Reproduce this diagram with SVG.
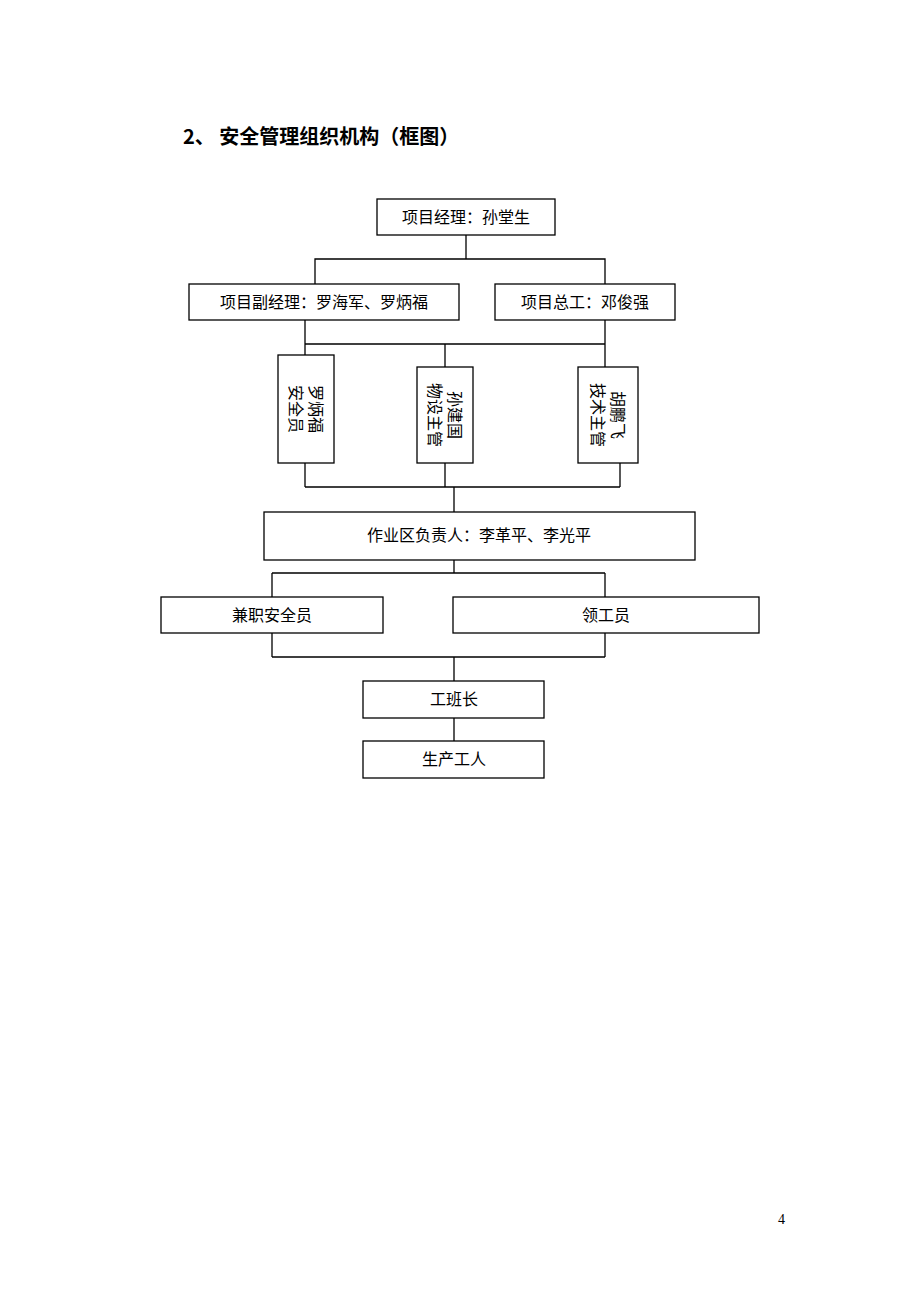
<svg xmlns="http://www.w3.org/2000/svg" width="920" height="1302" viewBox="0 0 920 1302">
<style>
rect{fill:#fff;stroke:#000;stroke-width:1.3}
.c{fill:none;stroke:#000;stroke-width:1.3}
text{font-family:"Noto Sans CJK SC","Liberation Serif",serif;font-size:16px;fill:#000}
.m{text-anchor:middle}
</style>
<rect x="0" y="0" width="920" height="1302" style="stroke:none"/>
<text x="183" y="144" style="font-size:20px;font-weight:bold">2、  安全管理组织机构（框图）</text>
<g id="connectors">
<path class="c" d="M466 235V259M315 284V259H605V284M305 320V344M605 320V344M305 344H605M305 344V355M445 344V367M605 344V367M305 463V487M445 463V487M620 463V487M305 487H620M454 487V512M454 560V573M272 573H605M272 573V597M605 573V597M272 633V657M605 633V657M272 657H605M454 657V681M454 718V741"/>
</g>
<g id="n1"><rect x="377" y="199" width="178" height="36"/><text class="m" x="466" y="223">项目经理：孙堂生</text></g>
<g id="n2"><rect x="189" y="284" width="270" height="36"/><text class="m" x="324" y="308">项目副经理：罗海军、罗炳福</text></g>
<g id="n3"><rect x="495" y="284" width="180" height="36"/><text class="m" x="585" y="308">项目总工：邓俊强</text></g>
<g id="n4"><rect x="278" y="355" width="56" height="108"/><text transform="translate(306,409) rotate(90)"><tspan class="m" x="0" y="-4">罗炳福</tspan><tspan class="m" x="0" y="16">安全员</tspan></text></g>
<g id="n5"><rect x="417" y="367" width="56" height="96"/><text transform="translate(445,415) rotate(90)"><tspan class="m" x="0" y="-4">孙建国</tspan><tspan class="m" x="0" y="16">物设主管</tspan></text></g>
<g id="n6"><rect x="578" y="367" width="60" height="96"/><text transform="translate(608,415) rotate(90)"><tspan class="m" x="0" y="-4">胡鹏飞</tspan><tspan class="m" x="0" y="16">技术主管</tspan></text></g>
<g id="n7"><rect x="264" y="512" width="431" height="48"/><text class="m" x="479" y="541">作业区负责人：李革平、李光平</text></g>
<g id="n8"><rect x="161" y="597" width="222" height="36"/><text class="m" x="272" y="621">兼职安全员</text></g>
<g id="n9"><rect x="453" y="597" width="306" height="36"/><text class="m" x="606" y="621">领工员</text></g>
<g id="n10"><rect x="363" y="681" width="181" height="37"/><text class="m" x="454" y="705">工班长</text></g>
<g id="n11"><rect x="363" y="741" width="181" height="37"/><text class="m" x="454" y="765">生产工人</text></g>
<text x="778" y="1224" style="font-family:'Liberation Serif',serif;font-size:14px">4</text>
</svg>
